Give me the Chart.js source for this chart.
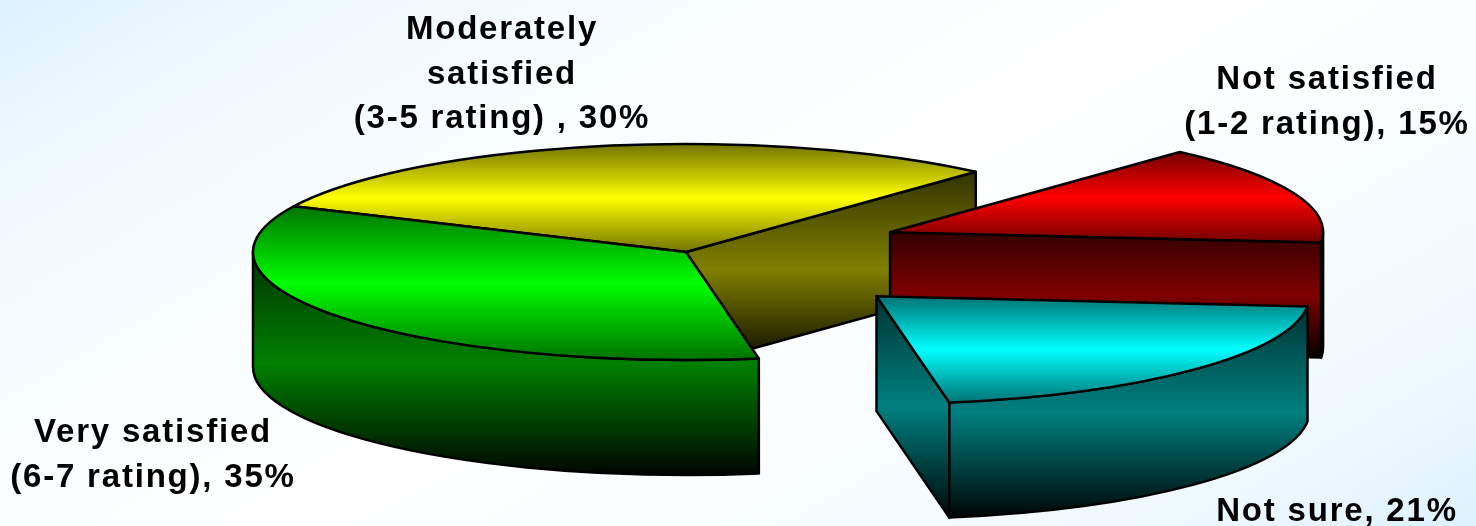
<!DOCTYPE html>
<html>
<head>
<meta charset="utf-8">
<title>Satisfaction rating</title>
<script src="https://cdn.jsdelivr.net/npm/chart.js@4"></script>
<style>
    html, body { margin: 0; padding: 0; }
    body { width: 1476px; height: 526px; overflow: hidden; background: linear-gradient(150deg, #dcf2ff 0%, #ecf7ff 10%, #f7fcff 28%, #ffffff 50%, #f7fcff 72%, #ecf7ff 90%, #dcf2ff 100%); }
    canvas { display: block; }
</style>
</head>
<body>
<canvas id="pieChart" width="1476" height="526"></canvas>
<script>
const categories = ['Not satisfied', 'Not sure', 'Very satisfied', 'Moderately satisfied'];
const values = [15, 21, 35, 30];
const explode = [219, 260, 0, 0];
const baseColors = [[255, 0, 0], [0, 255, 255], [0, 255, 0], [255, 255, 0]];
const labelLines = [
    ['Not satisfied', '(1-2 rating), 15%'],
    ['Not sure, 21%'],
    ['Very satisfied', '(6-7 rating), 35%'],
    ['Moderately', 'satisfied', '(3-5 rating) , 30%']
];
// label centre x and first baseline y, same order as categories
const labelX = [1327, 1337, 153, 502];
const labelY = [89, 521, 442, 39];
const drawOrder = [3, 2, 0, 1];

const shade = (rgb, f) => `rgb(${rgb.map(c => Math.round(c * f)).join(',')})`;

const pie3d = {
    id: 'pie3d',
    beforeDatasetDraw(chart, args, opts) {
        const arcs = chart.getDatasetMeta(0).data;
        const ctx = chart.ctx;
        const { cx, cy, rx, ry, depth } = opts;

        const sideFill = (color, top, bottom) => {
            const g = ctx.createLinearGradient(0, top, 0, bottom);
            g.addColorStop(0, shade(color, 0.2));
            g.addColorStop(0.5, shade(color, 0.5));
            g.addColorStop(1, shade(color, 0.02));
            return g;
        };

        const drawSlice = (arc, i) => {
            const a0 = arc.startAngle;
            const a1 = arc.endAngle;
            const mid = (a0 + a1) / 2;
            const off = arc.options.offset;
            const x0 = cx + Math.cos(mid) * off;
            const y0 = cy + Math.sin(mid) * off * ry / rx;
            const px = a => x0 + rx * Math.cos(a);
            const py = a => y0 + ry * Math.sin(a);
            const color = baseColors[i];

            ctx.strokeStyle = '#000';
            ctx.lineWidth = 2.5;
            ctx.lineJoin = 'round';

            const quad = (xb, yb) => {
                ctx.fillStyle = sideFill(color, Math.min(y0, yb), Math.max(y0, yb) + depth);
                ctx.beginPath();
                ctx.moveTo(x0, y0);
                ctx.lineTo(xb, yb);
                ctx.lineTo(xb, yb + depth);
                ctx.lineTo(x0, y0 + depth);
                ctx.closePath();
                ctx.fill();
                ctx.stroke();
            };

            // cut faces, only those turned to the viewer
            if (Math.cos(a0) < 0) quad(px(a0), py(a0));
            if (Math.cos(a1) > 0) quad(px(a1), py(a1));

            // outer wall, only the front half of the ellipse shows
            const twoPi = Math.PI * 2;
            const s0 = ((a0 % twoPi) + twoPi) % twoPi;
            const s1 = s0 + (a1 - a0);
            [0, twoPi].forEach(turn => {
                const from = Math.max(s0, turn);
                const to = Math.min(s1, turn + Math.PI);
                if (to <= from) return;
                let wallTop = Infinity, wallBottom = -Infinity;
                for (let s = 0; s <= 60; s++) {
                    const y = py(from + (to - from) * s / 60);
                    wallTop = Math.min(wallTop, y);
                    wallBottom = Math.max(wallBottom, y);
                }
                ctx.fillStyle = sideFill(color, wallTop, wallBottom + depth);
                ctx.beginPath();
                ctx.ellipse(x0, y0, rx, ry, 0, from, to);
                ctx.lineTo(px(to), py(to) + depth);
                ctx.ellipse(x0, y0 + depth, rx, ry, 0, to, from, true);
                ctx.closePath();
                ctx.fill();
                ctx.stroke();
            });

            // top face
            let top = y0, bottom = y0;
            for (let s = 0; s <= 90; s++) {
                const y = py(a0 + (a1 - a0) * s / 90);
                top = Math.min(top, y);
                bottom = Math.max(bottom, y);
            }
            const topGrad = ctx.createLinearGradient(0, top, 0, bottom);
            topGrad.addColorStop(0, shade(color, 0.45));
            topGrad.addColorStop(0.5, shade(color, 1));
            topGrad.addColorStop(1, shade(color, 0.45));
            ctx.fillStyle = topGrad;
            ctx.beginPath();
            ctx.moveTo(x0, y0);
            ctx.ellipse(x0, y0, rx, ry, 0, a0, a1);
            ctx.closePath();
            ctx.fill();
            ctx.stroke();
        };

        drawOrder.forEach(i => drawSlice(arcs[i], i));

        // labels
        ctx.fillStyle = '#000';
        ctx.font = opts.font;
        ctx.letterSpacing = opts.letterSpacing;
        ctx.textAlign = 'center';
        ctx.textBaseline = 'alphabetic';
        labelLines.forEach((lines, i) => {
            lines.forEach((line, n) => {
                ctx.fillText(line, labelX[i], labelY[i] + n * opts.lineHeight);
            });
        });
        ctx.letterSpacing = '0px';
        return false;
    }
};

new Chart(document.getElementById('pieChart'), {
    type: 'pie',
    data: {
        labels: categories,
        datasets: [{ data: values, offset: explode, borderWidth: 0 }]
    },
    options: {
        responsive: false,
        animation: false,
        rotation: 42,
        events: [],
        plugins: {
            legend: { display: false },
            tooltip: { enabled: false },
            pie3d: {
                cx: 686, cy: 252, rx: 433, ry: 108, depth: 115,
                font: 'bold 33px "Liberation Sans"',
                letterSpacing: '1.8px',
                lineHeight: 44.5
            }
        }
    },
    plugins: [pie3d]
});
</script>
</body>
</html>
